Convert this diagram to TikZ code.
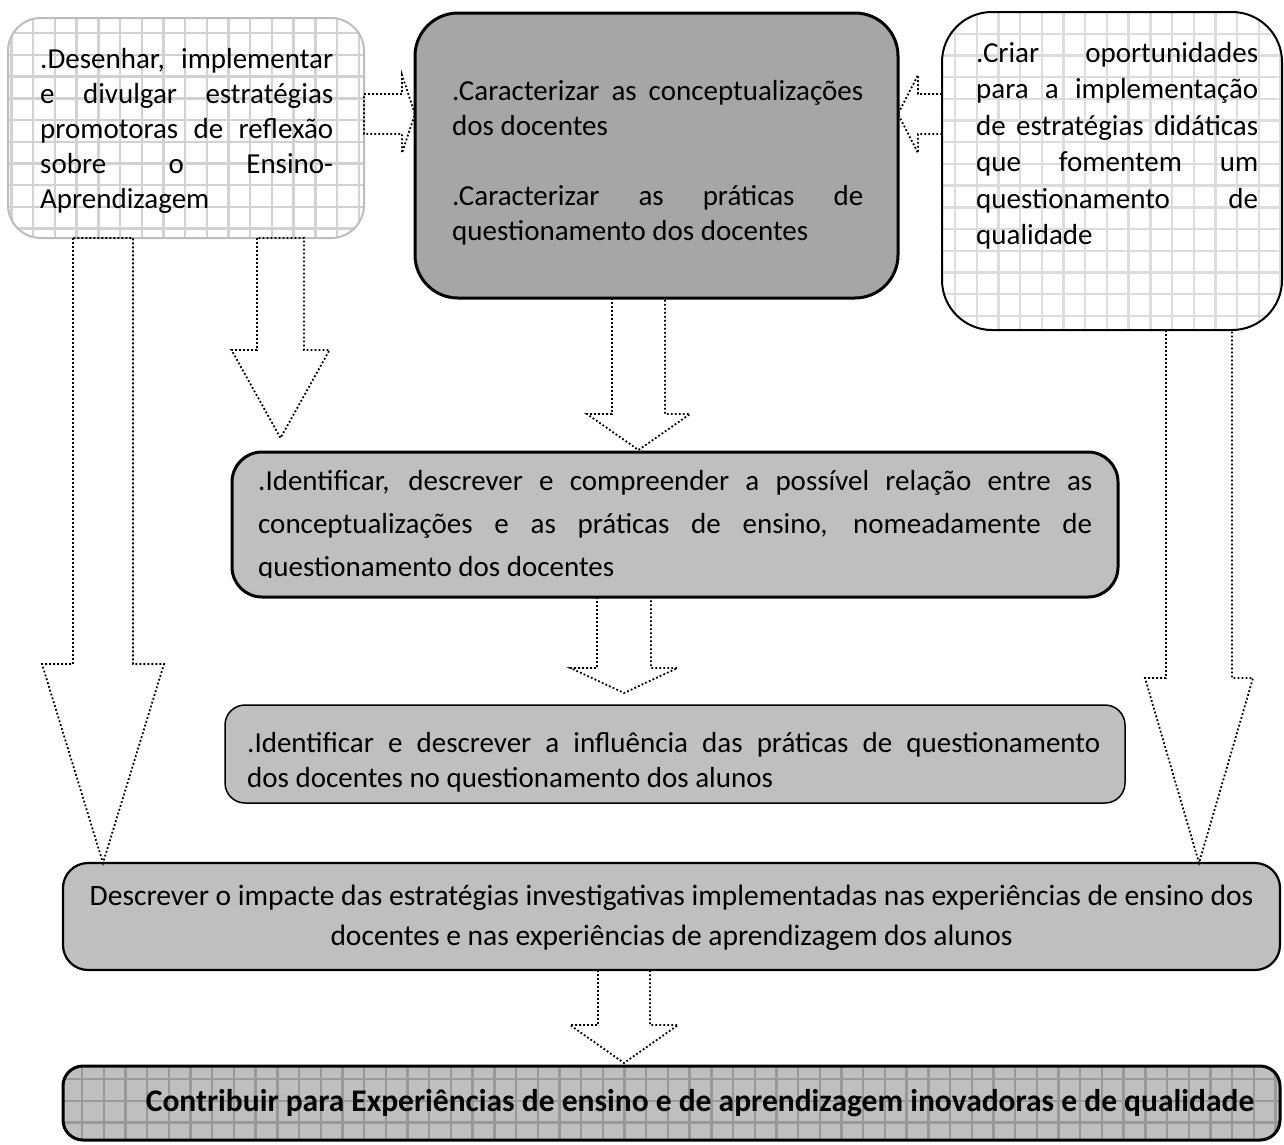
\documentclass[tikz,border=0pt]{standalone}
\usepackage{fontspec}
\setmainfont{Carlito}
\usetikzlibrary{calc,backgrounds}

\definecolor{boxdark}{HTML}{A6A6A6}
\definecolor{boxlight}{HTML}{BFBFBF}
\definecolor{gridlight}{HTML}{D2D2D2}
\definecolor{gridpale}{HTML}{DCDCDC}
\definecolor{griddark}{HTML}{999999}
\definecolor{edgelight}{HTML}{BDBDBD}

% hollow block arrows: #1 shaft start (centre), #2 tip, #3 shaft half width,
% #4 head half width, #5 head length
\newcommand{\blkdown}[5]{%
  \draw[blockarrow] let \p1=(#1), \p2=(#2) in
    (\x1-#3,\y1) -- (\x1-#3,\y2+#5) -- (\x1-#4,\y2+#5) -- (\x2,\y2)
    -- (\x1+#4,\y2+#5) -- (\x1+#3,\y2+#5) -- (\x1+#3,\y1) -- cycle;}
\newcommand{\blkright}[5]{%
  \draw[blockarrow] let \p1=(#1), \p2=(#2) in
    (\x1,\y1+#3) -- (\x2-#5,\y1+#3) -- (\x2-#5,\y1+#4) -- (\x2,\y2)
    -- (\x2-#5,\y1-#4) -- (\x2-#5,\y1-#3) -- (\x1,\y1-#3) -- cycle;}
\newcommand{\blkleft}[5]{%
  \draw[blockarrow] let \p1=(#1), \p2=(#2) in
    (\x1,\y1+#3) -- (\x2+#5,\y1+#3) -- (\x2+#5,\y1+#4) -- (\x2,\y2)
    -- (\x2+#5,\y1-#4) -- (\x2+#5,\y1-#3) -- (\x1,\y1-#3) -- cycle;}

\begin{document}
\begin{tikzpicture}[x=1pt,y=-1pt,
  box/.style={rectangle, inner sep=0pt, outer sep=0pt},
  txt/.style={inner sep=0pt, anchor=base west, align=justify,
    font=\fontsize{29}{35}\selectfont},
  blockarrow/.style={line width=1.8pt, dash pattern=on 1.8pt off 2.2pt},
  gridline/.style={line width=2.4pt}
]
\useasboundingbox (0,0) rectangle (1284,1144);

% ---------- boxes ----------
\node[box, draw=edgelight, line width=2pt, rounded corners=33pt,
      minimum width=356pt, minimum height=220pt] (L) at (186,128) {};
\node[box, draw=black, fill=boxdark, line width=3pt, rounded corners=43pt,
      minimum width=483pt, minimum height=285pt] (C) at (656.5,155.5) {};
\node[box, draw=black, line width=2pt, rounded corners=50pt,
      minimum width=340pt, minimum height=318pt] (R) at (1112,171) {};
\node[box, draw=black, fill=boxlight, line width=3pt, rounded corners=30pt,
      minimum width=886pt, minimum height=145pt] (B3) at (675,524.5) {};
\node[box, draw=black, fill=boxlight, line width=1.5pt, rounded corners=20pt,
      minimum width=900pt, minimum height=98pt] (B4) at (675,754) {};
\node[box, draw=black, fill=boxlight, line width=2.2pt, rounded corners=25pt,
      minimum width=1217pt, minimum height=107pt] (B5) at (671.5,916.5) {};
\node[box, draw=black, line width=3pt, rounded corners=20pt,
      minimum width=1217pt, minimum height=74pt] (B6) at (671.5,1103) {};

% ---------- squared paper inside the boxes ----------
\begin{scope}[on background layer]
  \begin{scope}
    \clip[rounded corners=33pt] (L.north west) rectangle (L.south east);
    \foreach \i in {0,...,17} \draw[gridline,gridlight] ({11.5+21.7*\i},0) -- ++(0,250);
    \foreach \j in {0,...,11} \draw[gridline,gridlight] (0,{11.5+21.7*\j}) -- ++(380,0);
  \end{scope}
  \begin{scope}
    \clip[rounded corners=50pt] (R.north west) rectangle (R.south east);
    \foreach \i in {0,...,16} \draw[gridline,gridpale] ({955+21.7*(\i-1)},0) -- ++(0,340);
    \foreach \j in {0,...,16} \draw[gridline,gridpale] (930,{12+21.7*\j}) -- ++(360,0);
  \end{scope}
  \begin{scope}
    \clip[rounded corners=20pt] (B6.north west) rectangle (B6.south east);
    \fill[boxlight] (B6.north west) rectangle (B6.south east);
    \foreach \i in {0,...,57} \draw[gridline,griddark] ({60.3+21.7*\i},1060) -- ++(0,90);
    \foreach \j in {0,...,4} \draw[gridline,griddark] (50,{1057.3+21.7*\j}) -- ++(1240,0);
  \end{scope}
\end{scope}

% ---------- texts ----------
\node[txt, text width=293pt] (Lt) at (40,68)
  {.Desenhar, implementar\linebreak e divulgar estratégias\linebreak
   promotoras de reflexão\linebreak sobre o Ensino-\linebreak Aprendizagem};
\node[txt, text width=411pt] (Ct) at (452,100)
  {.Caracterizar as conceptualizações\linebreak dos docentes\\[35pt]
   .Caracterizar as práticas de\linebreak questionamento dos docentes};
\node[txt, text width=282pt, font=\fontsize{29}{36.5}\selectfont] (Rt) at (976,62)
  {.Criar oportunidades\linebreak para a implementação\linebreak
   de estratégias didáticas\linebreak que fomentem um\linebreak
   questionamento de\linebreak qualidade};
\begin{scope}
  \clip (B3.north west) rectangle ($(B3.south east)+(0,-20)$);
  \node[txt, text width=834pt, font=\fontsize{29}{43}\selectfont] (B3t) at (258,490)
    {.Identificar, descrever e compreender a possível relação entre as\linebreak
     conceptualizações e as práticas de ensino, nomeadamente de\linebreak
     questionamento dos docentes};
\end{scope}
\node[txt, text width=853pt] (B4t) at (247,752)
  {.Identificar e descrever a influência das práticas de questionamento\linebreak
   dos docentes no questionamento dos alunos};
% the base anchor of this centred block sits on its last line
\node[txt, anchor=base, align=center, font=\fontsize{29.5}{40}\selectfont] (B5t) at (671.5,945)
  {Descrever o impacte das estratégias investigativas implementadas nas experiências de ensino dos\\
   docentes e nas experiências de aprendizagem dos alunos};
\node[txt, anchor=base, align=center, font=\bfseries\fontsize{31.5}{35}\selectfont] (B6t) at (700,1111)
  {Contribuir para Experiências de ensino e de aprendizagem inovadoras e de qualidade};

% ---------- block arrows ----------
\coordinate (a1) at (0,114);
\blkright{L.east |- a1}{C.west |- a1}{20}{39}{13}
\blkleft{R.west |- a1}{C.east |- a1}{20}{39}{20}
\coordinate (a3) at (638.5,0);
\blkdown{C.south -| a3}{$(B3.north -| a3)+(0,-2)$}{26.5}{51.5}{36}
\coordinate (a4) at (103,0);
\blkdown{L.south -| a4}{B5.north -| a4}{30}{61}{199}
\coordinate (a5) at (280.5,0);
\blkdown{L.south -| a5}{$(B3.north -| a5)+(0,-14)$}{23.5}{49}{88}
\coordinate (a6) at (1199,0);
\blkdown{R.south -| a6}{B5.north -| a6}{33}{54}{185}
\coordinate (a7) at (624,0);
\blkdown{B3.south -| a7}{$(B4.north -| a7)+(0,-12)$}{27}{53.5}{25}
\coordinate (a8) at (624,0);
\blkdown{B5.south -| a8}{$(B6.north -| a8)+(0,-3)$}{26}{54}{38}
\end{tikzpicture}
\end{document}
